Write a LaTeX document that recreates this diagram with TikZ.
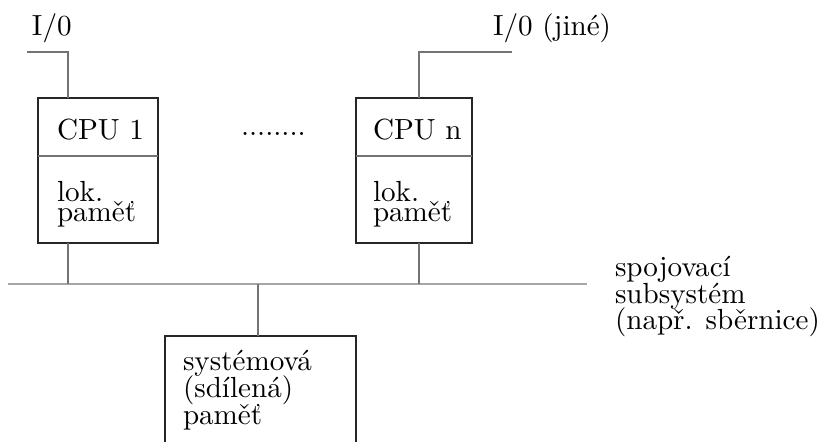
\documentclass[tikz,border=0pt]{standalone}
\usepackage{fontspec}
\usepackage{tikz}
\usetikzlibrary{calc, positioning}

\begin{document}
\begin{tikzpicture}[x=0.3436pt,y=-0.3436pt,semithick,
        every node/.style={inner sep=0pt,outer sep=0pt}]
        \tikzstyle{box}=[draw=black!85,line width=0.6pt,rectangle,minimum height=49.83pt]
        \tikzstyle{wire}=[draw=black!55,line width=0.4pt]
        \tikzstyle{busline}=[draw=black!35,line width=0.9pt]
        \tikzstyle{txt}=[anchor=base west,font=\fontsize{10}{12}\selectfont]
        \useasboundingbox (0,0) rectangle (817,442);
        \clip (0,0) rectangle (817,442);
        % procesory
        \node[box,minimum width=41.24pt](cpu1) at (98,170.5){};
        \node[box,minimum width=39.86pt](cpun) at (414,170.5){};
        \node[box,minimum width=65.64pt,minimum height=46.05pt](mem) at (260.5,403){};
        \draw[wire] (cpu1.west |- 0,156) -- (cpu1.east |- 0,156);
        \draw[wire] (cpun.west |- 0,156) -- (cpun.east |- 0,156);
        \node[txt](cpu1a) at (57,140){CPU 1};
        \node[txt](cpu1b) at (57,202){lok.};
        \node[txt](cpu1c) at (57,222){paměť};
        \node[txt](cpuna) at (373,140){CPU n};
        \node[txt](cpunb) at (373,202){lok.};
        \node[txt](cpunc) at (373,222){paměť};
        \node[txt](dots) at (241,136){........};
        % vstup/vystup
        \coordinate (io1) at (27,52);
        \coordinate (ion) at (512,52);
        \node[txt](io1t) at (32,36){I/0};
        \node[txt](iont) at (493,36){I/0 (jiné)};
        % sbernice
        \coordinate (busL) at (8,284);
        \coordinate (busR) at (587,284);
        \coordinate (tap1) at (68,284);
        \coordinate (tapn) at (419,284);
        \coordinate (tapm) at (258,284);
        \draw[busline] (busL) -- (busR);
        \draw[wire] (io1) -| (cpu1.north -| tap1);
        \draw[wire] (ion) -| (cpun.north -| tapn);
        \draw[wire] (cpu1.south -| tap1) -- (tap1);
        \draw[wire] (cpun.south -| tapn) -- (tapn);
        \draw[wire] (tapm) -- (mem.north -| tapm);
        \node[txt](bus1) at (615,277){spojovací};
        \node[txt](bus2) at (615,303.5){subsystém};
        \node[txt](bus3) at (615,330){(např. sběrnice)};
        \node[txt](mem1) at (183,371){systémová};
        \node[txt](mem2) at (183,398){(sdílená)};
        \node[txt](mem3) at (183,425){paměť};
     \end{tikzpicture}
\end{document}
